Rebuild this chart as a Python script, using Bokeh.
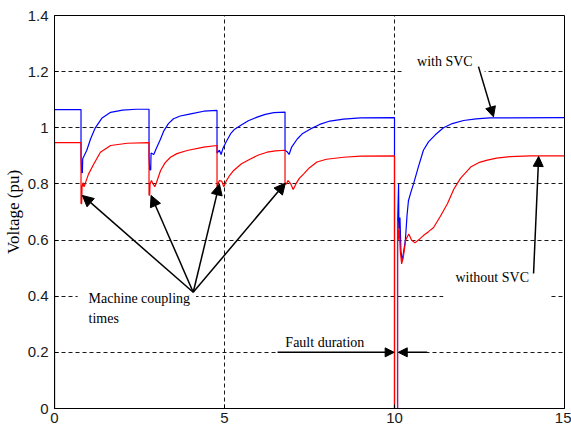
from bokeh.plotting import figure
from bokeh.models import (Range1d, FixedTicker, CustomJSTickFormatter, Label, Arrow,
                          NormalHead, ColumnDataSource)
from bokeh.embed import file_html
from bokeh.resources import INLINE

# ---------------- data ----------------
t_svc = [0, 0, 0.78, 0.78, 0.80, 0.82, 0.83, 0.95, 1.06, 1.2, 1.4, 1.65, 2.0, 2.4, 2.78,
         2.78, 2.80, 2.83, 2.84, 2.92, 2.99, 3.1, 3.22, 3.35, 3.5, 3.7, 3.9, 4.15, 4.39, 4.78,
         4.78, 4.85, 4.9, 4.95, 5.05, 5.18, 5.3, 5.47, 5.7, 5.96, 6.2, 6.45, 6.78,
         6.78, 6.84, 6.9, 6.97, 7.14, 7.3, 7.53, 7.8, 8.1, 8.5, 9.0, 10.0,
         10.0, 10.09, 10.09, 10.12, 10.13, 10.16, 10.19, 10.23, 10.27, 10.32, 10.37, 10.41,
         10.48, 10.56, 10.7, 10.85, 11.0, 11.2, 11.44, 11.7, 12.03, 12.4, 12.8, 15.0]
v_svc = [0, 1.065, 1.065, 0.90, 0.84, 0.84, 0.89, 0.92, 0.96, 1.0, 1.035, 1.055, 1.063, 1.066, 1.066,
         0.90, 0.85, 0.85, 0.91, 0.905, 0.925, 0.955, 0.99, 1.015, 1.032, 1.042, 1.047, 1.053, 1.059, 1.062,
         0.91, 0.92, 0.905, 0.925, 0.95, 0.979, 0.995, 1.008, 1.025, 1.038, 1.048, 1.054, 1.056,
         0.92, 0.915, 0.905, 0.93, 0.96, 0.98, 0.996, 1.012, 1.024, 1.031, 1.035, 1.036,
         0, 0, 0.65, 0.80, 0.64, 0.68, 0.56, 0.525, 0.56, 0.60, 0.69, 0.74,
         0.77, 0.80, 0.86, 0.92, 0.95, 0.975, 1.0, 1.015, 1.026, 1.032, 1.035, 1.036]

t_nosvc = [0, 0, 0.78, 0.78, 0.80, 0.81, 0.84, 0.87, 0.9, 1.0, 1.16, 1.35, 1.65, 2.14, 2.78,
           2.78, 2.80, 2.81, 2.85, 2.9, 2.95, 3.0, 3.12, 3.25, 3.41, 3.6, 3.9, 4.39, 4.78,
           4.78, 4.8, 4.85, 4.92, 4.98, 5.05, 5.15, 5.27, 5.5, 5.76, 6.0, 6.25, 6.5, 6.78,
           6.78, 6.82, 6.87, 6.95, 7.02, 7.1, 7.2, 7.33, 7.5, 7.72, 8.0, 8.5, 9.0, 10.0,
           10.0, 10.09, 10.09, 10.11, 10.14, 10.17, 10.21, 10.26, 10.33, 10.42, 10.5, 10.6,
           10.75, 10.85, 11.0, 11.15, 11.35, 11.56, 11.74, 11.94, 12.24, 12.5, 12.73, 13.0,
           13.4, 14.0, 15.0]
v_nosvc = [0, 0.947, 0.947, 0.73, 0.73, 0.79, 0.805, 0.79, 0.80, 0.835, 0.872, 0.913, 0.937, 0.945, 0.947,
           0.76, 0.76, 0.80, 0.812, 0.80, 0.79, 0.805, 0.848, 0.875, 0.895, 0.908, 0.919, 0.931, 0.937,
           0.79, 0.80, 0.812, 0.81, 0.79, 0.81, 0.83, 0.848, 0.872, 0.889, 0.903, 0.913, 0.918, 0.92,
           0.80, 0.80, 0.812, 0.80, 0.78, 0.80, 0.82, 0.836, 0.858, 0.878, 0.888, 0.895, 0.899, 0.90,
           0, 0, 0.67, 0.60, 0.64, 0.56, 0.515, 0.54, 0.60, 0.622, 0.60, 0.59,
           0.605, 0.616, 0.63, 0.645, 0.685, 0.73, 0.78, 0.82, 0.86, 0.877, 0.885, 0.892,
           0.897, 0.90, 0.90]

x_ticks = [0, 5, 10, 15]
y_ticks = [0, 0.2, 0.4, 0.6, 0.8, 1.0, 1.2, 1.4]
x_grid = [5, 10]
y_grid = [0.2, 0.4, 0.6, 0.8, 1.0, 1.2]

# annotation anchor points (data units)
coupling_apex = (4.08, 0.414)
coupling_tips = [(0.82, 0.759), (2.84, 0.759), (4.85, 0.80), (6.79, 0.803)]

# ---------------- figure ----------------
p = figure(width=571, height=439, output_backend="svg", toolbar_location=None,
           x_range=Range1d(0, 15), y_range=Range1d(0, 1.4),
           min_border_left=54, min_border_right=7, min_border_top=15, min_border_bottom=31)
p.background_fill_color = "white"
p.border_fill_color = "white"
p.outline_line_color = "black"
p.outline_line_width = 1
p.outline_line_alpha = 1

p.xaxis.ticker = FixedTicker(ticks=x_ticks)
p.yaxis.ticker = FixedTicker(ticks=y_ticks)
p.yaxis.formatter = CustomJSTickFormatter(code="return String(Number(tick.toFixed(1)));")
for ax in (p.xaxis[0], p.yaxis[0]):
    ax.axis_line_color = "black"
    ax.axis_line_width = 1
    ax.major_tick_in = 4
    ax.major_tick_out = 0
    ax.minor_tick_line_color = None
    ax.major_tick_line_color = "black"
    ax.major_label_text_font = "Liberation Sans"
    ax.major_label_text_font_size = "15px"
    ax.major_label_text_color = "#1a1a1a"
p.xaxis.major_label_standoff = 4
p.yaxis.major_label_standoff = 6
p.yaxis.axis_label = "Voltage (pu)"
p.yaxis.axis_label_text_font = "Liberation Serif"
p.yaxis.axis_label_text_font_style = "normal"
p.yaxis.axis_label_text_font_size = "17px"
p.yaxis.axis_label_text_color = "black"
p.yaxis.axis_label_standoff = 2

p.xgrid.ticker = FixedTicker(ticks=x_grid)
p.ygrid.ticker = FixedTicker(ticks=y_grid)
for g in (p.xgrid[0], p.ygrid[0]):
    g.grid_line_color = "black"
    g.grid_line_dash = "4 3"
    g.grid_line_width = 1
    g.grid_line_alpha = 0.9

src_svc = ColumnDataSource(dict(t=t_svc, v=v_svc))
src_nosvc = ColumnDataSource(dict(t=t_nosvc, v=v_nosvc))
p.line("t", "v", source=src_svc, line_color="#0000ff", line_width=1.2)
p.line("t", "v", source=src_nosvc, line_color="#ff0000", line_width=1.2)

# ---------------- labels ----------------
def lab(x, y, text, pad=None, bg=False, size="14px"):
    kw = dict(x=x, y=y, text=text, text_font="Liberation Serif", text_font_size=size,
              text_color="black", text_baseline="top", text_align="left")
    if bg:
        kw.update(background_fill_color="white", background_fill_alpha=1.0)
    if pad is not None:
        kw["padding"] = pad
    lb = Label(**kw)
    p.add_layout(lb)
    return lb

lab(10.28, 1.270, "with SVC", pad=dict(left=13, right=12, top=2, bottom=6), bg=True)
lab(11.44, 0.500, "without SVC", pad=dict(left=12, right=20, top=2, bottom=14), bg=True)
lab(0.68, 0.424, "Machine coupling", pad=dict(left=11, right=6, top=2, bottom=4), bg=True)
lab(1.0, 0.346, "times")
lab(6.79, 0.262, "Fault duration")
# x-axis title placed between the tick labels, as in the reference
lab(7.03, -0.028, "t(s)", size="16px")

# ---------------- arrows ----------------
def arrow(x0, y0, x1, y1, size=10):
    p.add_layout(Arrow(end=NormalHead(size=size, fill_color="black", line_color="black"),
                       x_start=x0, y_start=y0, x_end=x1, y_end=y1,
                       line_color="black", line_width=1.5))

for (xt, yt) in coupling_tips:
    arrow(coupling_apex[0], coupling_apex[1], xt, yt, size=11)
arrow(12.47, 1.218, 12.91, 1.039)
arrow(14.09, 0.481, 14.24, 0.898)
arrow(6.56, 0.2, 9.99, 0.2, size=9)
arrow(10.96, 0.2, 10.11, 0.2, size=9)

open("out.html", "w").write(file_html(p, INLINE))
